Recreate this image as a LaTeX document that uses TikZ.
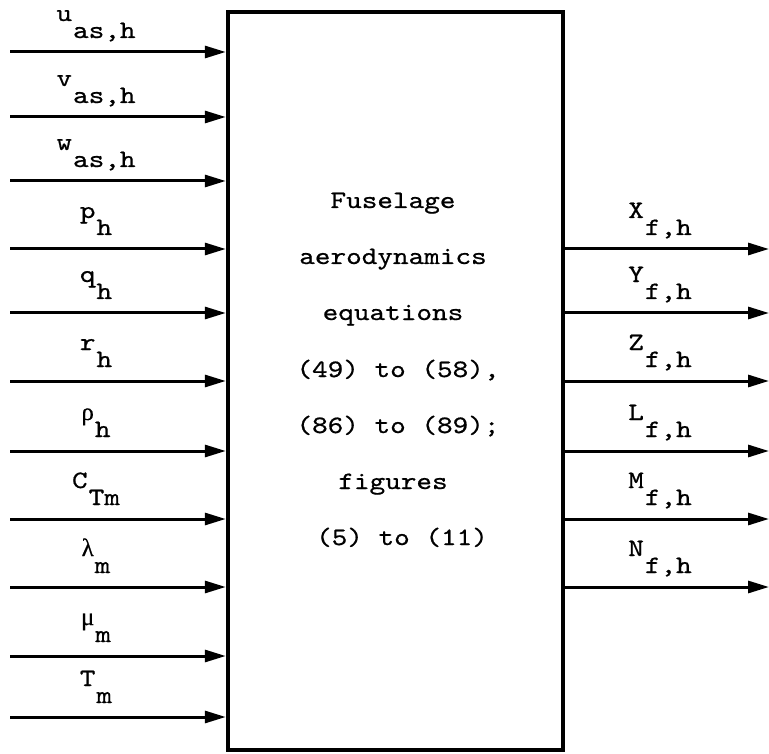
\documentclass[tikz,border=0pt]{standalone}
\usepackage{fontspec}
\newfontfamily\tw[FakeStretch=1.19,FakeBold=0.7]{lmmono10-regular.otf}
\newfontfamily\gk[FakeBold=0.5]{Liberation Serif}
\usetikzlibrary{arrows.meta}
\newcommand\lbl[2]{\raisebox{17pt}{#1}\hspace{1pt}#2}
\begin{document}
\begin{tikzpicture}[x=1pt,y=-1pt,
  sig/.style={line width=3pt,-{Triangle[length=21pt,width=12pt]}},
  lab/.style={anchor=base,inner sep=0pt,font=\tw\fontsize{25}{25}\selectfont},
  fusbox/.style={draw,line width=4.4pt,minimum width=335pt,minimum height=738pt,inner sep=0pt},
  body/.style={anchor=base,inner sep=0pt,font=\tw\fontsize{25}{25}\selectfont}]
\useasboundingbox (0,0) rectangle (769,754);
\node[fusbox] (fus) at (395.5,381) {};
% body text
\node[body] (t1) at (393,208) {Fuselage};
\node[body] (t2) at (393,264) {aerodynamics};
\node[body] (t3) at (393,320) {equations};
\node[body] (t4) at (398,377) {(49) to (58),};
\node[body] (t5) at (398,433) {(86) to (89);};
\node[body] (t6) at (393,489) {figures};
\node[body] (t7) at (402,545) {(5) to (11)};
% inputs
\foreach \y/\m/\s [count=\i] in {52/u/{as,h},117/v/{as,h},181/w/{as,h},249/p/h,313/q/h,381/r/h,451/{\gk ρ}/h,519/C/Tm,587/{\gk λ}/m,656/{\gk μ}/m,717/T/m}{
  \coordinate (in\i) at (10,\y);
  \draw[sig] (in\i) -- (fus.west |- in\i);
  \node[lab] (li\i) at (96,\y-14) {\lbl{\m}{\s}};
}
% outputs
\foreach \y/\m [count=\i] in {249/X,313/Y,381/Z,451/L,519/M,587/N}{
  \coordinate (out\i) at (769,\y);
  \draw[sig] (fus.east |- out\i) -- (out\i);
  \node[lab] (lo\i) at (660,\y-14) {\lbl{\m}{f,h}};
}
\end{tikzpicture}
\end{document}
